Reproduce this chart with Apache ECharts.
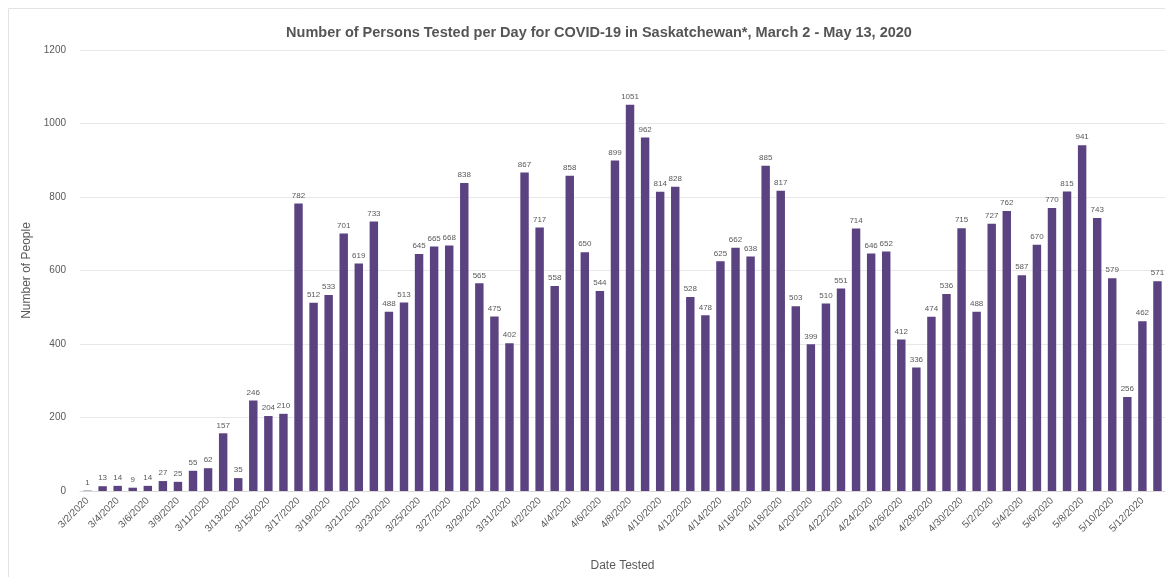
<!DOCTYPE html>
<html>
<head>
<meta charset="utf-8">
<script src="https://cdn.jsdelivr.net/npm/echarts@6/dist/echarts.min.js"></script>
<style>
html,body{margin:0;padding:0;background:#fff;}
#chart{width:1165px;height:577px;}
</style>
</head>
<body>
<div id="chart"></div>
<script>
const dates = ["3/2/2020","3/3/2020","3/4/2020","3/5/2020","3/6/2020","3/7/2020","3/9/2020","3/10/2020","3/11/2020","3/12/2020","3/13/2020","3/14/2020","3/15/2020","3/16/2020","3/17/2020","3/18/2020","3/19/2020","3/20/2020","3/21/2020","3/22/2020","3/23/2020","3/24/2020","3/25/2020","3/26/2020","3/27/2020","3/28/2020","3/29/2020","3/30/2020","3/31/2020","4/1/2020","4/2/2020","4/3/2020","4/4/2020","4/5/2020","4/6/2020","4/7/2020","4/8/2020","4/9/2020","4/10/2020","4/11/2020","4/12/2020","4/13/2020","4/14/2020","4/15/2020","4/16/2020","4/17/2020","4/18/2020","4/19/2020","4/20/2020","4/21/2020","4/22/2020","4/23/2020","4/24/2020","4/25/2020","4/26/2020","4/27/2020","4/28/2020","4/29/2020","4/30/2020","5/1/2020","5/2/2020","5/3/2020","5/4/2020","5/5/2020","5/6/2020","5/7/2020","5/8/2020","5/9/2020","5/10/2020","5/11/2020","5/12/2020","5/13/2020"];
const personsTested = [1,13,14,9,14,27,25,55,62,157,35,246,204,210,782,512,533,701,619,733,488,513,645,665,668,838,565,475,402,867,717,558,858,650,544,899,1051,962,814,828,528,478,625,662,638,885,817,503,399,510,551,714,646,652,412,336,474,536,715,488,727,762,587,670,770,815,941,743,579,256,462,571];
const yTicks = [0,200,400,600,800,1000,1200];

const chart = echarts.init(document.getElementById('chart'));
chart.setOption({
  backgroundColor: '#fff',
  animation: false,
  textStyle: {fontFamily: 'Liberation Sans, sans-serif'},
  graphic: [{
    type: 'rect', shape: {x: 8.5, y: 8.5, width: 1170, height: 580},
    style: {fill: 'none', stroke: '#e3e3e3', lineWidth: 1}, silent: true
  }],
  title: {
    text: 'Number of Persons Tested per Day for COVID-19 in Saskatchewan*, March 2 - May 13, 2020',
    left: 594, top: 20, textAlign: 'center',
    textStyle: {fontSize: 14.5, fontWeight: 'bold', color: '#555555', fontFamily: 'Liberation Sans, sans-serif'}
  },
  grid: {left: 80, right: 0, top: 50, bottom: 86, containLabel: false},
  xAxis: {
    type: 'category', data: dates,
    name: 'Date Tested', nameLocation: 'middle', nameGap: 69,
    nameTextStyle: {fontSize: 12, color: '#595959'},
    axisLine: {show: true, lineStyle: {color: '#d9d9d9'}},
    axisTick: {show: false},
    axisLabel: {interval: 1, rotate: 45, fontSize: 10, color: '#595959', margin: 8}
  },
  yAxis: {
    type: 'value', min: yTicks[0], max: yTicks[yTicks.length-1], interval: 200,
    name: 'Number of People', nameLocation: 'middle', nameGap: 44,
    nameTextStyle: {fontSize: 12, color: '#595959'},
    axisLine: {show: false}, axisTick: {show: false},
    axisLabel: {fontSize: 10, color: '#595959', margin: 14, formatter: v => String(v)},
    splitLine: {lineStyle: {color: '#e8e8e8'}}
  },
  series: [{
    type: 'bar', data: personsTested, barWidth: '56%',
    itemStyle: {color: '#5b4281'},
    label: {show: true, position: 'top', fontSize: 8, color: '#595959', distance: 4}
  }]
});
</script>
</body>
</html>
